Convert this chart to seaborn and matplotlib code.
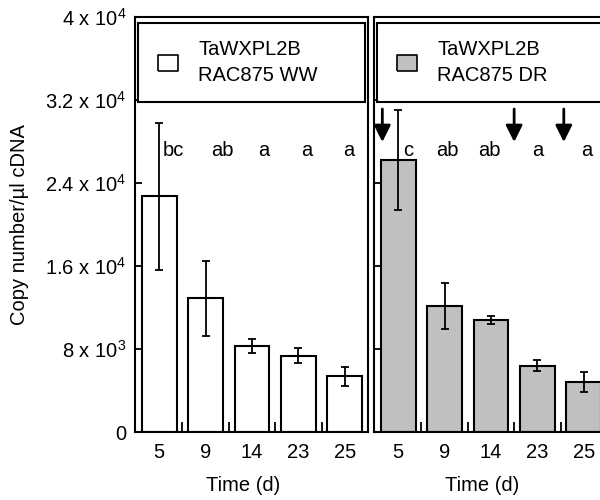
import matplotlib
matplotlib.use("Agg")
import matplotlib.pyplot as plt
from matplotlib.lines import Line2D
from matplotlib.ticker import FixedLocator
import pandas as pd
import seaborn as sns

# data
days = ["5", "9", "14", "23", "25"]
ww_mean = [22700, 12900, 8260, 7360, 5370]
ww_err = [7050, 3600, 680, 750, 890]
dr_mean = [26200, 12150, 10800, 6400, 4820]
dr_err = [4830, 2250, 370, 545, 930]
ww_letters = ["bc", "ab", "a", "a", "a"]
dr_letters = ["c", "ab", "ab", "a", "a"]
ww_letter_x = [0.30, 1.36, 2.26, 3.19, 4.09]
dr_letter_x = [0.21, 1.07, 1.97, 3.00, 4.07]
arrow_x = [-0.34, 2.5, 3.57]
yticks = [0, 8000, 16000, 24000, 32000, 40000]
ytick_labels = ["0", r"8 x $\mathregular{10^3}$", r"1.6 x $\mathregular{10^4}$",
                r"2.4 x $\mathregular{10^4}$", r"3.2 x $\mathregular{10^4}$",
                r"4 x $\mathregular{10^4}$"]

sns.set_style("ticks")
plt.rcParams["font.family"] = ["Liberation Sans", "DejaVu Sans"]
plt.rcParams["mathtext.fontset"] = "custom"
plt.rcParams["mathtext.rm"] = "Liberation Sans"
for k in ["text.color", "axes.labelcolor", "xtick.color", "ytick.color", "axes.edgecolor"]:
    plt.rcParams[k] = "black"

FS = 14.5
fig = plt.figure(figsize=(6, 5), dpi=100)
ax1 = fig.add_axes([0.225, 0.136, 0.3883, 0.83])
ax2 = fig.add_axes([0.6233, 0.136, 0.3883, 0.83])

# small rectangle marker for the legend key
rect = [(-1.25, -1), (1.25, -1), (1.25, 1), (-1.25, 1), (-1.25, -1)]

panels = [
    (ax1, ww_mean, ww_err, "white", "TaWXPL2B\nRAC875 WW", ww_letters, ww_letter_x),
    (ax2, dr_mean, dr_err, "#c0c0c0", "TaWXPL2B\nRAC875 DR", dr_letters, dr_letter_x),
]

for ax, mean, err, col, lab, letters, lx in panels:
    df = pd.DataFrame({"day": days, "copies": mean})
    sns.barplot(data=df, x="day", y="copies", order=days, color=col, saturation=1,
                edgecolor="black", linewidth=1.5, width=0.75, errorbar=None, ax=ax)
    ax.errorbar(range(len(days)), mean, yerr=err, fmt="none", ecolor="black",
                elinewidth=1.3, capsize=3, capthick=1.3)
    for x, t in zip(lx, letters):
        ax.text(x, 26600, t, ha="center", va="baseline", fontsize=FS)

    ax.set_xlim(-0.52, 4.5)
    ax.set_ylim(0, 40000)
    ax.set_yticks(yticks)
    ax.xaxis.set_minor_locator(FixedLocator([0.5, 1.5, 2.5, 3.5]))
    ax.tick_params(axis="x", which="major", length=0, pad=8, labelsize=FS)
    ax.tick_params(axis="x", which="minor", direction="in", length=7, width=1.3)
    ax.tick_params(axis="y", direction="in", length=5, width=1.3, pad=6, labelsize=FS)
    ax.set_xlabel("Time (d)", fontsize=FS)
    ax.xaxis.set_label_coords(0.464, -0.105)
    for s in ax.spines.values():
        s.set_visible(True)
        s.set_linewidth(1.5)
        s.set_color("black")

    handle = Line2D([], [], linestyle="none", marker=rect, markersize=15,
                    markerfacecolor=col, markeredgecolor="black", markeredgewidth=1.2)
    leg = ax.legend([handle], [lab], loc="upper left", mode="expand",
                    bbox_to_anchor=(0.013, 0, 0.974, 0.986), borderaxespad=0,
                    fontsize=FS, frameon=True, fancybox=False, edgecolor="black",
                    borderpad=0.85, handlelength=1.25, handletextpad=0.9)
    leg.get_frame().set_linewidth(1.5)
    leg.get_frame().set_alpha(1)
    for t in leg.get_texts():
        t.set_linespacing(1.47)

ax1.set_yticklabels(ytick_labels)
ax1.set_ylabel("Copy number/µl cDNA", fontsize=FS, labelpad=12)
ax2.set_yticklabels([])
ax2.set_ylabel("")

for x in arrow_x:
    ax2.annotate("", xy=(x, 27950), xytext=(x, 31130),
                 arrowprops=dict(arrowstyle="-|>,head_length=1.0,head_width=0.5",
                                 mutation_scale=10, lw=2, color="black",
                                 shrinkA=0, shrinkB=0))

fig.savefig("out.png", dpi=100)
